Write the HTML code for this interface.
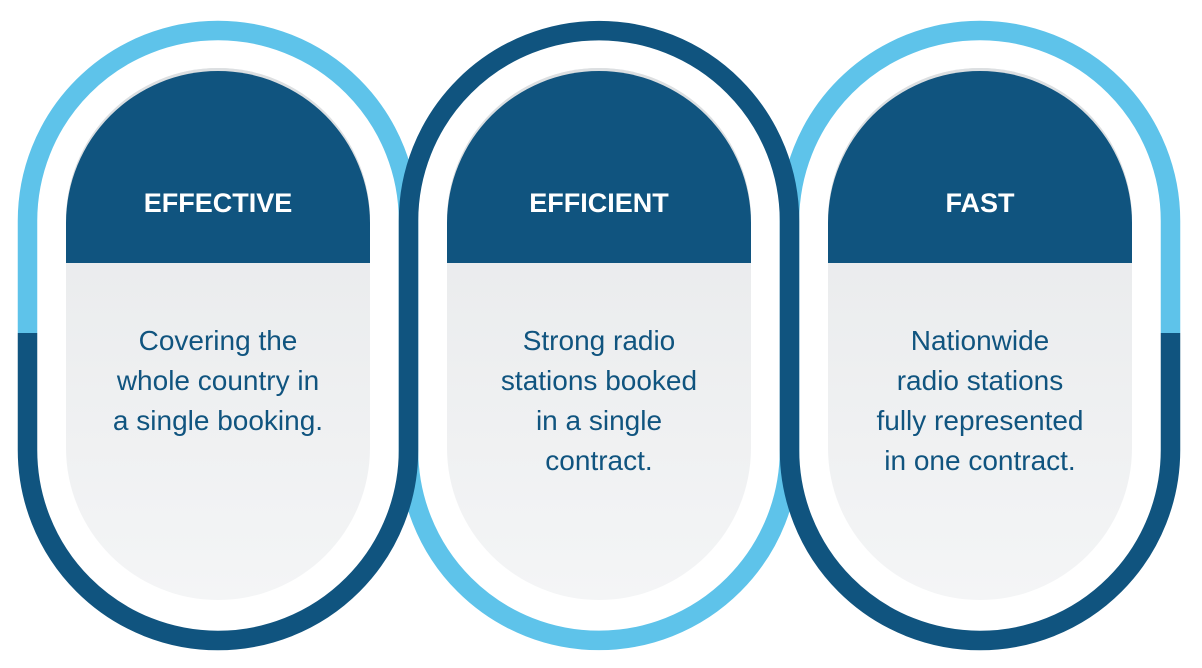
<!DOCTYPE html>
<html><head><meta charset="utf-8"><style>
html,body{margin:0;padding:0;background:#fff;}
svg{display:block}
.h{font-family:"Liberation Sans",sans-serif;font-weight:bold;font-size:27px;fill:#fff;text-anchor:middle}
.b{font-family:"Liberation Sans",sans-serif;font-size:28px;fill:#10547f;text-anchor:middle}
</style></head><body>
<svg width="1202" height="668" viewBox="0 0 1202 668" xmlns="http://www.w3.org/2000/svg">
<defs>
<linearGradient id="g" x1="0" y1="0" x2="0" y2="1">
<stop offset="0" stop-color="#e5e7e9"/><stop offset="1" stop-color="#f4f5f6"/>
</linearGradient>
</defs>
<g fill="none" stroke-width="19.5">
<path d="M408.5,333 L408.5,450 A190.5,190.5 0 0 0 789.5,450 L789.5,333" stroke="#5ec3ea"/>
<path d="M27.5,333 L27.5,450 A190.5,190.5 0 0 0 408.5,450 L408.5,333" stroke="#10547f"/>
<path d="M789.5,333 L789.5,450 A190.5,190.5 0 0 0 1170.5,450 L1170.5,333" stroke="#10547f"/>
<path d="M27.5,333 L27.5,221 A190.5,190.5 0 0 1 408.5,221 L408.5,333" stroke="#5ec3ea"/>
<path d="M789.5,333 L789.5,221 A190.5,190.5 0 0 1 1170.5,221 L1170.5,333" stroke="#5ec3ea"/>
<path d="M408.5,333 L408.5,221 A190.5,190.5 0 0 1 789.5,221 L789.5,333" stroke="#10547f"/>
</g>
<g>
<rect x="66" y="68" width="304" height="532" rx="152" ry="152" fill="url(#g)"/>
<path d="M66,263 L66,220 A152,152 0 0 1 370,220 L370,263 Z" fill="#dcdfe1"/>
<path d="M66,263 L66,223 A152,152 0 0 1 370,223 L370,263 Z" fill="#10547f"/>
<text class="h" x="218" y="212">EFFECTIVE</text>
<text class="b" x="218" y="350">Covering the</text>
<text class="b" x="218" y="390">whole country in</text>
<text class="b" x="218" y="430">a single booking.</text>
</g>
<g>
<rect x="447" y="68" width="304" height="532" rx="152" ry="152" fill="url(#g)"/>
<path d="M447,263 L447,220 A152,152 0 0 1 751,220 L751,263 Z" fill="#dcdfe1"/>
<path d="M447,263 L447,223 A152,152 0 0 1 751,223 L751,263 Z" fill="#10547f"/>
<text class="h" x="599" y="212">EFFICIENT</text>
<text class="b" x="599" y="350">Strong radio</text>
<text class="b" x="599" y="390">stations booked</text>
<text class="b" x="599" y="430">in a single</text>
<text class="b" x="599" y="470">contract.</text>
</g>
<g>
<rect x="828" y="68" width="304" height="532" rx="152" ry="152" fill="url(#g)"/>
<path d="M828,263 L828,220 A152,152 0 0 1 1132,220 L1132,263 Z" fill="#dcdfe1"/>
<path d="M828,263 L828,223 A152,152 0 0 1 1132,223 L1132,263 Z" fill="#10547f"/>
<text class="h" x="980" y="212">FAST</text>
<text class="b" x="980" y="350">Nationwide</text>
<text class="b" x="980" y="390">radio stations</text>
<text class="b" x="980" y="430">fully represented</text>
<text class="b" x="980" y="470">in one contract.</text>
</g>
</svg>
</body></html>
